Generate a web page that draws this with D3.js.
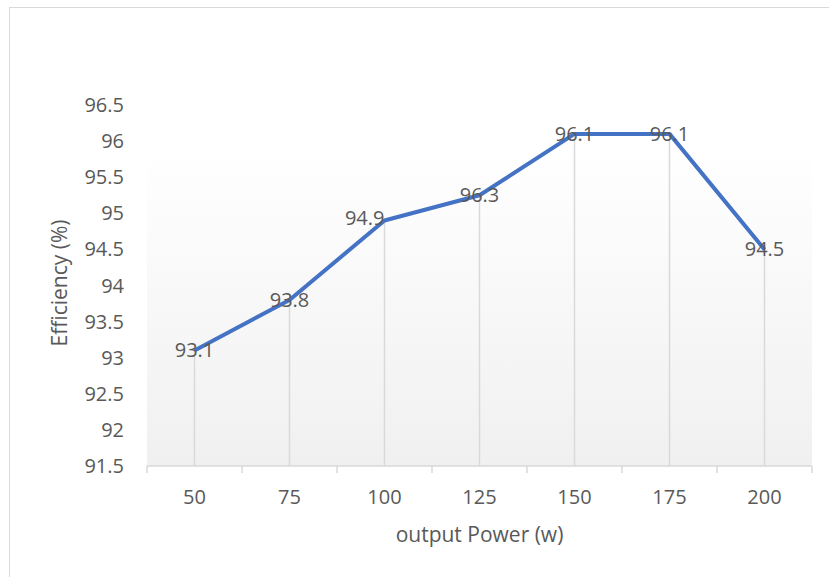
<!DOCTYPE html>
<html>
<head>
<meta charset="utf-8">
<script src="https://cdn.jsdelivr.net/npm/d3@7"></script>
<style>
  body { margin: 0; background: #fff; }
  text { font-family: "Open Sans", "DejaVu Sans", sans-serif; fill: #595959; }
</style>
</head>
<body>
<svg id="chart" width="829" height="577"></svg>
<script>
// chart data
var powers = ["50", "75", "100", "125", "150", "175", "200"];
var efficiency = [93.1, 93.8, 94.9, 95.25, 96.1, 96.1, 94.5];
// labels as printed on the original chart
var labels = ["93.1", "93.8", "94.9", "96.3", "96.1", "96.1", "94.5"];
var yTicks = [91.5, 92, 92.5, 93, 93.5, 94, 94.5, 95, 95.5, 96, 96.5];

var svg = d3.select("#chart");

// outer frame
svg.append("rect")
    .attr("x", 9.5).attr("y", 7.5)
    .attr("width", 840).attr("height", 600)
    .attr("fill", "#fff")
    .attr("stroke", "#d9d9d9");

var plotLeft = 147, plotRight = 812, plotTop = 105, plotBottom = 466;

var x = d3.scaleBand().domain(powers).range([plotLeft, plotRight]);
var y = d3.scaleLinear().domain([91.5, 96.5]).range([plotBottom, plotTop]);

function cx(d) { return x(d) + x.bandwidth() / 2; }

// plot background gradient
var grad = svg.append("defs").append("linearGradient")
    .attr("id", "bg").attr("x1", 0).attr("y1", 0).attr("x2", 0).attr("y2", 1);
grad.append("stop").attr("offset", "0%").attr("stop-color", "#ffffff");
grad.append("stop").attr("offset", "100%").attr("stop-color", "#f0f0f0");

svg.append("rect")
    .attr("x", plotLeft).attr("y", 150)
    .attr("width", plotRight - plotLeft).attr("height", plotBottom - 150)
    .attr("fill", "url(#bg)");

// drop lines
svg.selectAll(".drop")
    .data(powers)
    .enter().append("line")
    .attr("class", "drop")
    .attr("x1", cx)
    .attr("x2", cx)
    .attr("y1", function(d, i) { return y(efficiency[i]); })
    .attr("y2", plotBottom)
    .attr("stroke", "#d9d9d9")
    .attr("stroke-width", 1.5);

// x axis
var xAxis = svg.append("g")
    .attr("transform", "translate(0," + plotBottom + ")");
xAxis.append("line")
    .attr("x1", plotLeft).attr("x2", plotRight)
    .attr("stroke", "#d9d9d9").attr("stroke-width", 1.5);
xAxis.selectAll(".tick")
    .data(d3.range(powers.length + 1))
    .enter().append("line")
    .attr("x1", function(i) { return plotLeft + i * x.bandwidth(); })
    .attr("x2", function(i) { return plotLeft + i * x.bandwidth(); })
    .attr("y1", 0).attr("y2", 7)
    .attr("stroke", "#d9d9d9").attr("stroke-width", 1.5);
xAxis.selectAll(".lbl")
    .data(powers)
    .enter().append("text")
    .attr("x", cx)
    .attr("y", 38)
    .attr("text-anchor", "middle")
    .attr("font-size", 20)
    .text(function(d) { return d; });

// y labels
svg.selectAll(".ylbl")
    .data(yTicks)
    .enter().append("text")
    .attr("x", 124)
    .attr("y", function(d) { return y(d); })
    .attr("dy", "0.35em")
    .attr("text-anchor", "end")
    .attr("font-size", 20)
    .text(function(d) { return d; });

// axis titles
svg.append("text")
    .attr("x", (plotLeft + plotRight) / 2)
    .attr("y", 542)
    .attr("text-anchor", "middle")
    .attr("font-size", 21)
    .text("output Power (w)");

svg.append("text")
    .attr("transform", "translate(67,283) rotate(-90)")
    .attr("text-anchor", "middle")
    .attr("font-size", 21)
    .text("Efficiency (%)");

// line
var line = d3.line()
    .x(function(d, i) { return cx(powers[i]); })
    .y(function(d) { return y(d); });

svg.append("path")
    .datum(efficiency)
    .attr("d", line)
    .attr("fill", "none")
    .attr("stroke", "#4472c4")
    .attr("stroke-width", 4)
    .attr("stroke-linejoin", "round");

// data labels (the 100 W label sits left of its point in the original)
svg.selectAll(".dlbl")
    .data(efficiency)
    .enter().append("text")
    .attr("x", function(d, i) { return cx(powers[i]); })
    .attr("y", function(d) { return y(d); })
    .attr("dy", function(d, i) { return i === 2 ? "0.2em" : "0.35em"; })
    .attr("text-anchor", function(d, i) { return i === 2 ? "end" : "middle"; })
    .attr("font-size", 20)
    .text(function(d, i) { return labels[i]; });
</script>
</body>
</html>
